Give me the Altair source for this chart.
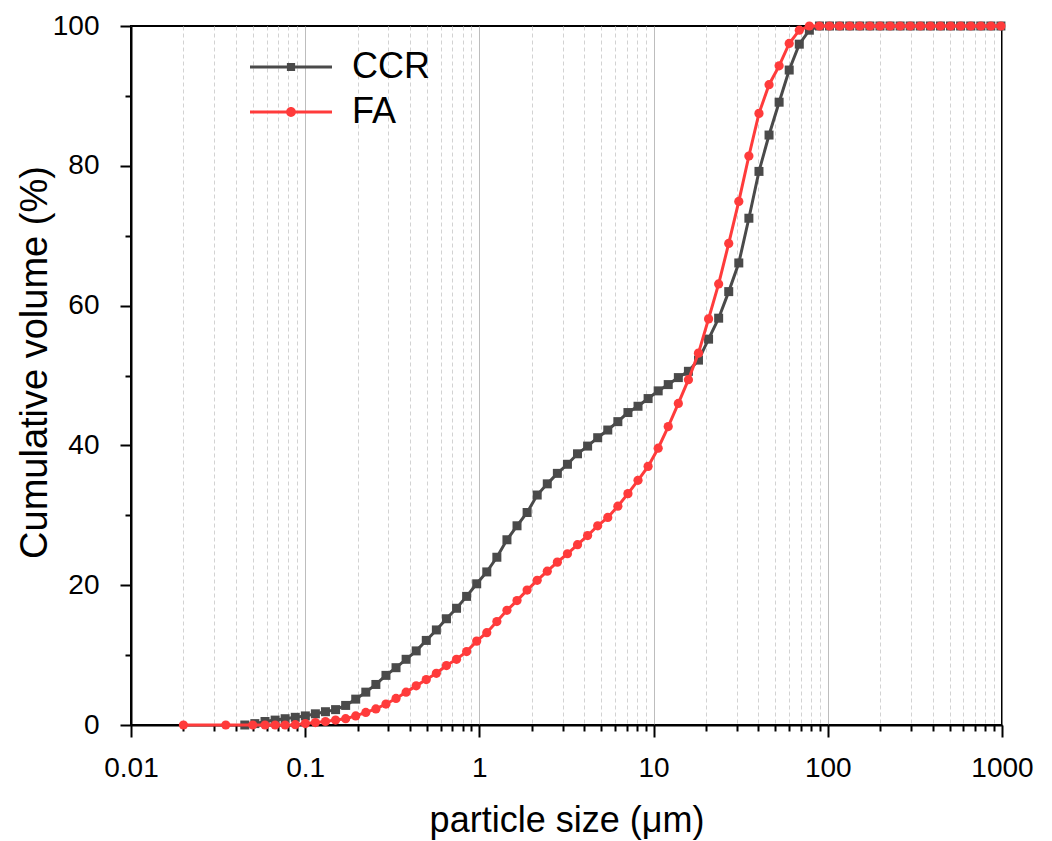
import altair as alt
import pandas as pd

# particle size grid (µm)
SIZES = [0.0450, 0.0514, 0.0588, 0.0672, 0.0767, 0.0877, 0.1002, 0.1144, 0.1307, 0.1494,
         0.1707, 0.1950, 0.2228, 0.2545, 0.2908, 0.3322, 0.3796, 0.4337, 0.4955, 0.5662,
         0.6469, 0.7392, 0.8446, 0.9650, 1.1025, 1.2597, 1.4393, 1.6444, 1.8789, 2.1468,
         2.4528, 2.8025, 3.2020, 3.6584, 4.1799, 4.7759, 5.4567, 6.2346, 7.1234, 8.1389,
         9.2991, 10.625, 12.134, 13.868, 15.845, 18.096, 20.678, 23.627, 26.996, 30.837,
         35.237, 40.262, 45.994, 52.552, 60.046, 68.611, 78.37, 89.55, 102.3, 116.9,
         133.6, 152.6, 174.4, 199.3, 227.7, 260.2, 297.2, 339.6, 388.0, 443.2,
         506.4, 578.6, 661.0, 755.1, 862.8, 985.8]

CCR = [0.0, 0.2, 0.5, 0.7, 0.9, 1.1, 1.3, 1.6, 1.9, 2.2,
       2.8, 3.7, 4.7, 5.8, 7.1, 8.2, 9.4, 10.6, 12.1, 13.6,
       15.2, 16.7, 18.4, 20.2, 21.9, 24.0, 26.5, 28.5, 30.4, 32.9,
       34.5, 36.0, 37.3, 38.8, 39.9, 41.1, 42.2, 43.4, 44.7, 45.6,
       46.7, 47.8, 48.7, 49.7, 50.6, 52.2, 55.2, 58.2, 62.0, 66.1,
       72.5, 79.2, 84.4, 89.1, 93.7, 97.4, 99.4, 100, 100, 100,
       100, 100, 100, 100, 100, 100, 100, 100, 100, 100,
       100, 100, 100, 100, 100, 100]

FA = [None, None, 0.0, 0.0, 0.0, 0.05, 0.2, 0.35, 0.5, 0.7,
      0.9, 1.3, 1.8, 2.3, 3.0, 3.8, 4.7, 5.6, 6.5, 7.4,
      8.5, 9.4, 10.5, 12.0, 13.2, 14.8, 16.4, 17.8, 19.3, 20.7,
      22.0, 23.3, 24.5, 25.8, 27.1, 28.5, 29.7, 31.3, 33.1, 35.0,
      37.0, 39.6, 42.7, 46.0, 49.4, 53.2, 58.1, 63.1, 68.9, 74.9,
      81.4, 87.5, 91.6, 94.3, 97.5, 99.4, 100, 100, 100, 100,
      100, 100, 100, 100, 100, 100, 100, 100, 100, 100,
      100, 100, 100, 100, 100, 100]

FA_LEAD_SIZES = [0.02, 0.035, 0.05]
FA_LEAD = [0.0, 0.0, 0.0]

SERIES = ["CCR", "FA"]
COLORS = ["#4a4a4a", "#ff3b3b"]

rows = []
for s, v in zip(SIZES, CCR):
    if v is not None:
        rows.append({"size": s, "vol": v, "series": "CCR"})
for s, v in zip(FA_LEAD_SIZES, FA_LEAD):
    rows.append({"size": s, "vol": v, "series": "FA"})
for s, v in zip(SIZES, FA):
    if v is not None:
        rows.append({"size": s, "vol": v, "series": "FA"})
df = pd.DataFrame(rows)

FONT = "Liberation Sans"

# axis tick positions (decades plus 2..9 minors)
x_ticks = [m * 10.0 ** e for e in range(-2, 3) for m in range(1, 10)] + [1000.0]
MAJ_X = "abs(log(datum.value)/LN10 - round(log(datum.value)/LN10)) < 0.000001"
MAJ_Y = "datum.value % 20 == 0"

x_axis = alt.Axis(
    values=x_ticks,
    labelExpr=f"({MAJ_X}) ? format(datum.value, '~g') : ''",
    labelOverlap=False, labelFlush=False,
    labelFont=FONT, labelFontSize=28, labelColor="black", labelPadding=17,
    grid=True,
    gridColor={"condition": {"test": MAJ_X, "value": "#a6a6a6"}, "value": "#d2d2d2"},
    gridDash={"condition": {"test": MAJ_X, "value": [1, 0]}, "value": [4, 3]},
    gridWidth=1,
    ticks=True, tickColor="black", tickWidth=2,
    tickSize={"condition": {"test": MAJ_X, "value": 12}, "value": 6},
    domainColor="black", domainWidth=2,
    titleFont=FONT, titleFontSize=36, titleFontWeight="normal", titleColor="black",
    titleX=435.5, titleY=95, titleAlign="center", titleBaseline="middle",
)

y_axis = alt.Axis(
    values=list(range(0, 101, 10)),
    labelExpr=f"({MAJ_Y}) ? datum.label : ''",
    labelOverlap=False, labelFlush=False,
    labelFont=FONT, labelFontSize=28, labelColor="black", labelPadding=21,
    grid=False,
    ticks=True, tickColor="black", tickWidth=2,
    tickSize={"condition": {"test": MAJ_Y, "value": 11}, "value": 6},
    domainColor="black", domainWidth=2,
    titleFont=FONT, titleFontSize=38, titleFontWeight="normal", titleColor="black",
    titleAngle=-90, titleX=-96, titleY=336, titleAlign="center", titleBaseline="middle",
)

X = alt.X("size:Q", scale=alt.Scale(type="log", domain=[0.01, 1000], nice=False),
          axis=x_axis, title="particle size (μm)")
Y = alt.Y("vol:Q", scale=alt.Scale(domain=[0, 100], nice=False),
          axis=y_axis, title="Cumulative volume (%)")

base = alt.Chart(df)

ccr = base.transform_filter("datum.series == 'CCR'")
fa = base.transform_filter("datum.series == 'FA'")

ccr_line = ccr.mark_line(color=COLORS[0], strokeWidth=3).encode(x=X, y=Y)
ccr_pts = ccr.mark_point(shape="square", filled=True, size=81, color=COLORS[0], opacity=1).encode(x=X, y=Y)
fa_line = fa.mark_line(color=COLORS[1], strokeWidth=3).encode(x=X, y=Y)
fa_pts = fa.mark_point(shape="circle", filled=True, size=85, color=COLORS[1], opacity=1).encode(x=X, y=Y)

# legend symbols: line segment + marker
P_CCR = ("M-1,-0.037H-0.1V0.037H-1Z M0.1,-0.037H1V0.037H0.1Z "
         "M-0.1,-0.1H0.1V0.1H-0.1Z")
P_FA = ("M-1,-0.037H-0.1V0.037H-1Z M0.1,-0.037H1V0.037H0.1Z "
        "M0.12,0A0.12,0.12 0 1,1 -0.12,0A0.12,0.12 0 1,1 0.12,0Z")


def legend_for(name, path, color, ypos):
    leg = alt.Legend(orient="none", legendX=119, legendY=ypos, title=None,
                     labelFont=FONT, labelFontSize=36, labelColor="black",
                     symbolSize=6724, symbolStrokeWidth=0, symbolFillColor=color,
                     labelOffset=20, padding=0)
    return base.transform_filter("false").mark_point(
        filled=True, opacity=1, strokeWidth=0, color=color
    ).encode(
        x=X, y=Y,
        shape=alt.Shape("series:N", scale=alt.Scale(domain=[name], range=[path]), legend=leg),
        size=alt.value(6724),
    )


leg_ccr = legend_for(SERIES[0], P_CCR, COLORS[0], 0)
leg_fa = legend_for(SERIES[1], P_FA, COLORS[1], 45)

chart = alt.layer(ccr_line, ccr_pts, fa_line, fa_pts, leg_ccr, leg_fa).resolve_scale(
    shape="independent"
).resolve_legend(shape="independent").properties(
    width=871, height=699,
    autosize=alt.AutoSizeParams(type="none"),
    padding={"left": 123, "top": 18, "right": 40, "bottom": 115},
    background="white",
).configure_view(stroke="black", strokeWidth=2)

chart.save("out.html", embed_options={"renderer": "svg", "actions": False})
